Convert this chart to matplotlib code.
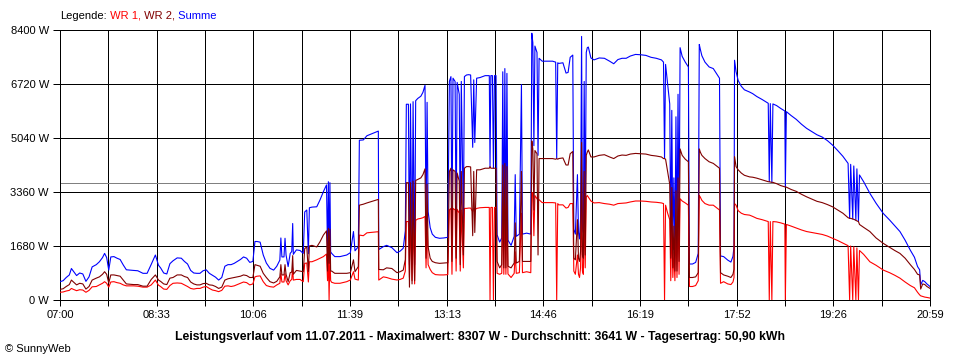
import matplotlib
matplotlib.use("Agg")
import matplotlib.pyplot as plt
import numpy as np

# ---------------- data (time = minutes after 07:00, power in W) ----------------
# 07:00 - 10:20
t_seg1 = [0, 3, 6, 9, 11, 13, 16, 19, 22, 25,
          28, 31, 35, 38, 41, 43, 45, 47, 49, 52,
          55, 58, 61, 64, 67, 71, 75, 80, 84, 88,
          92, 95, 97, 100, 103, 106, 109, 113, 117, 120,
          123, 126, 129, 132, 135, 138, 141, 144, 147, 150,
          153, 156, 159, 162, 165, 168, 171, 174, 177, 180,
          183, 186, 188, 190, 193, 196, 199]
wr1_seg1 = [240, 250, 280, 300, 360, 330, 290, 320, 310, 240,
            300, 410, 420, 470, 520, 570, 520, 400, 560, 570,
            540, 520, 470, 440, 440, 440, 430, 400, 400, 470,
            620, 460, 420, 340, 330, 450, 520, 530, 520, 470,
            420, 360, 340, 360, 360, 400, 420, 360, 310, 290,
            260, 300, 430, 440, 420, 440, 480, 520, 560, 540,
            470, 500, 720, 740, 750, 570, 450]
wr2_seg1 = [330, 350, 420, 480, 620, 560, 470, 520, 500, 340,
            420, 620, 680, 720, 800, 880, 800, 530, 780, 780,
            760, 740, 620, 500, 490, 480, 480, 430, 430, 640,
            780, 620, 580, 500, 480, 680, 700, 780, 780, 730,
            700, 560, 500, 470, 470, 510, 520, 470, 460, 420,
            360, 400, 620, 660, 680, 700, 720, 740, 780, 760,
            700, 700, 1100, 1080, 1050, 830, 700]

# 10:20 - 12:31
t_seg2 = [202.5, 206, 209, 212, 213, 214, 216, 217, 218, 220,
          222, 223.5, 224.4, 225, 228, 231.5, 234.6, 236, 238, 239.5,
          240.5, 243, 247.6, 250.7, 254, 257, 258, 258.8, 259.5, 260.3,
          261, 262, 265, 270, 276.5, 280, 283, 284.5, 287.7, 288.7,
          292.5, 296, 302, 307, 307.4, 311.8, 315, 320, 325, 328,
          331]
wr1_seg2 = [415, 400, 467, 520, 830, 560, 560, 820, 600, 470,
            600, 640, 1000, 620, 640, 640, 570, 1140, 1150, 560,
            1190, 1190, 1250, 1300, 1350, 1430, 600, 1450, 0, 1450,
            600, 550, 520, 520, 570, 622, 880, 650, 620, 2020,
            2000, 2090, 2110, 2125, 620, 720, 700, 650, 622, 640,
            680]
wr2_seg2 = [570, 530, 580, 720, 1100, 780, 780, 1100, 800, 570,
            850, 870, 1380, 800, 920, 900, 880, 1600, 1650, 880,
            1680, 1700, 1650, 1810, 2020, 2150, 900, 2230, 1140, 2200,
            900, 900, 830, 830, 830, 850, 1250, 880, 1040, 2950,
            2980, 3020, 3080, 3130, 950, 940, 1000, 980, 850, 880,
            930]

# 12:33 - 15:00
t_seg3 = [333, 334, 336, 337, 338, 339.5, 340.5, 342, 343, 345,
          348, 350, 352, 353, 354, 355, 357, 359, 362, 366,
          370, 374, 375.5, 377, 378, 379, 381, 382, 383, 385,
          386, 387, 389, 390, 392, 394, 396, 398, 399, 400,
          401.8, 405, 410, 414, 414.7, 415.5, 417, 418, 419, 420.5,
          421.5, 424, 426, 427, 428, 429, 430, 431, 432, 435,
          438, 439, 440, 443, 445, 446, 450, 454, 455, 456,
          457, 458, 460, 461, 462, 465, 470, 475, 478, 479,
          480]
wr1_seg3 = [900, 2440, 2440, 700, 2450, 600, 2470, 500, 2480, 2520,
            2540, 2560, 2600, 1000, 2550, 1100, 950, 850, 790, 780,
            780, 790, 2800, 2850, 800, 2850, 2800, 900, 2820, 2700,
            900, 2800, 1000, 2850, 2850, 2860, 2860, 2750, 2850, 2800,
            2850, 2870, 2880, 2880, 0, 2880, 2880, 0, 2880, 2880,
            830, 800, 830, 2900, 800, 2950, 800, 2900, 810, 700,
            830, 1500, 830, 850, 2700, 850, 880, 850, 3350, 3300,
            2000, 3250, 3150, 3100, 3120, 3030, 3030, 3030, 3020, 0,
            3000]
wr2_seg3 = [1250, 3650, 3650, 400, 3650, 500, 3700, 600, 3720, 3750,
            3800, 3900, 4080, 1300, 3600, 1650, 1300, 1200, 1160, 1140,
            1150, 1160, 4000, 4100, 1200, 4050, 4000, 1300, 3950, 3700,
            1100, 4000, 1400, 4100, 4150, 4150, 4140, 2000, 4000, 2100,
            4050, 4050, 4100, 4100, 4150, 4100, 4100, 4100, 4100, 4100,
            1200, 1000, 1100, 4200, 1000, 4250, 1000, 4150, 1050, 1000,
            1150, 2400, 1150, 1200, 4000, 1200, 1200, 1200, 4950, 4700,
            2800, 4650, 4550, 1400, 4400, 4400, 4400, 4400, 4380, 4400,
            4380]

# 15:01 - 17:37
t_seg4 = [481, 485, 488, 490, 492, 494.5, 495.5, 497, 499, 500,
          501, 502, 503, 503.8, 504.7, 505.5, 506.5, 507.5, 508.5, 509.5,
          512, 515, 520, 525, 530, 534, 538, 542, 546, 550,
          555, 560, 565, 570, 575, 580, 582, 583, 584, 586,
          588, 589, 590, 591, 592, 593, 594, 595, 596, 597,
          598, 600, 603, 606, 607, 610, 613, 615.5, 616.5, 617.5,
          619, 622, 626, 630, 634, 636, 637]
wr1_seg4 = [2960, 2960, 2860, 2880, 3000, 3000, 900, 800, 1400, 800,
            700, 1000, 3300, 900, 800, 2800, 1000, 3200, 3250, 3200,
            3080, 3020, 3030, 3000, 2980, 2950, 3000, 3010, 3020, 3050,
            3080, 3080, 3070, 3050, 3040, 3020, 3000, 0, 2950, 2700,
            2500, 600, 2400, 700, 1500, 600, 2300, 700, 2600, 800,
            3150, 3080, 3020, 2950, 420, 420, 450, 600, 3250, 3200,
            3100, 3000, 2950, 2950, 2850, 2800, 520]
wr2_seg4 = [4400, 4420, 4200, 4200, 4550, 4620, 1300, 1250, 2500, 1300,
            1200, 1500, 4900, 1400, 1300, 4000, 1400, 4500, 4600, 4670,
            4450, 4450, 4500, 4520, 4450, 4400, 4480, 4510, 4500, 4540,
            4560, 4550, 4540, 4500, 4480, 4450, 4400, 4400, 4380, 4000,
            3600, 1300, 3500, 1000, 2300, 900, 3400, 900, 3800, 1200,
            4700, 4500, 4380, 4300, 700, 700, 720, 850, 4700, 4600,
            4500, 4400, 4300, 4250, 4150, 4100, 850]

# 17:40 - 20:59
t_seg5 = [640, 644, 647, 649, 650, 650.5, 652, 654, 657, 660,
          665, 668, 672, 677, 683, 684, 685, 686.5, 687.5, 691,
          695, 699, 699.5, 700.5, 705, 710, 715, 720, 725, 730,
          735, 740, 745, 750, 755, 760, 761.5, 762.5, 764.5, 765.5,
          767.5, 768.5, 770, 771, 775, 781, 787, 794, 800, 805,
          810, 815, 820, 824, 827, 829, 830, 832, 834, 836,
          839]
wr1_seg5 = [570, 500, 480, 560, 700, 3000, 2950, 2780, 2700, 2660,
            2640, 2600, 2540, 2500, 2440, 0, 2440, 0, 2440, 2430,
            2400, 2360, 0, 2350, 2300, 2240, 2180, 2130, 2100, 2070,
            2040, 1990, 1920, 1850, 1770, 1690, 0, 1680, 0, 1660,
            0, 1620, 0, 1540, 1420, 1190, 1080, 930, 850, 770,
            680, 560, 450, 380, 240, 160, 130, 110, 90, 80,
            60]
wr2_seg5 = [780, 740, 700, 800, 960, 4460, 4150, 4050, 3950, 3880,
            3830, 3820, 3790, 3740, 3680, 3680, 3670, 3660, 3660, 3620,
            3560, 3520, 3520, 3510, 3440, 3380, 3290, 3210, 3140, 3070,
            3030, 2970, 2900, 2800, 2700, 2560, 2540, 2540, 2520, 2510,
            2480, 2460, 2440, 2350, 2260, 2130, 1930, 1760, 1640, 1540,
            1450, 1300, 1100, 950, 800, 780, 340, 500, 480, 420,
            360]

avg_value = 3641
y_ticks = [0, 1680, 3360, 5040, 6720, 8400]
x_labels = ["07:00", "08:33", "10:06", "11:39", "13:13",
            "14:46", "16:19", "17:52", "19:26", "20:59"]
total_minutes = 839  # 07:00 .. 20:59

title = ("Leistungsverlauf vom 11.07.2011 - Maximalwert: 8307 W - "
         "Durchschnitt: 3641 W - Tagesertrag: 50,90 kWh")

# ---------------- assemble ----------------
t = np.array(t_seg1 + t_seg2 + t_seg3 + t_seg4 + t_seg5, dtype=float)
wr1 = np.array(wr1_seg1 + wr1_seg2 + wr1_seg3 + wr1_seg4 + wr1_seg5, dtype=float)
wr2 = np.array(wr2_seg1 + wr2_seg2 + wr2_seg3 + wr2_seg4 + wr2_seg5, dtype=float)
assert len(t) == len(wr1) == len(wr2)
summe = wr1 + wr2

RED = "#FF0000"
DARK = "#800000"
BLUE = "#0000FF"

plt.rcParams['font.family'] = ['Liberation Sans', 'DejaVu Sans']

W, H = 960, 360
LW = 0.72       # one pixel at 100 dpi (grid, frame)
DLW = 0.8       # data lines
fig = plt.figure(figsize=(W / 100, H / 100), dpi=100)
fig.patch.set_facecolor("white")
ax = fig.add_axes([60 / W, 60 / H, 870 / W, 270 / H])

ax.set_xlim(0, total_minutes)
ax.set_ylim(0, 8400)

major_x = [total_minutes * k / 9 for k in range(10)]
minor_x = [total_minutes * (2 * k + 1) / 18 for k in range(9)]
for xv in major_x + minor_x:
    ax.axvline(xv, color="black", lw=LW, zorder=1, antialiased=False)
for yv in y_ticks:
    ax.axhline(yv, color="black", lw=LW, zorder=1, antialiased=False)
ax.axhline(avg_value, color="#808080", lw=LW, zorder=2, antialiased=False)

ax.plot(t, summe, color=BLUE, lw=DLW, zorder=3)
ax.plot(t, wr1, color=RED, lw=DLW, zorder=4)
ax.plot(t, wr2, color=DARK, lw=DLW, zorder=5)

ax.set_xticks(major_x)
ax.set_xticklabels(x_labels)
ax.set_xticks(minor_x, minor=True)
ax.set_yticks(y_ticks)
ax.set_yticklabels([f"{v} W" for v in y_ticks])
ax.tick_params(axis="x", which="both", length=4, width=LW, pad=3,
               labelsize=8, direction="out", colors="black")
ax.tick_params(axis="y", length=5, width=LW, pad=3, labelsize=8,
               direction="out", colors="black")
for sp in ax.spines.values():
    sp.set_linewidth(LW)
    sp.set_color("black")
    sp.set_antialiased(False)

fig.text(0.5, 1 - 337 / H, title, ha="center", va="center",
         fontsize=8.8, fontweight="bold")
fig.text(5 / W, 1 - 349 / H, "\u00a9 SunnyWeb", ha="left", va="center", fontsize=8)

# multi-coloured legend line
fig.canvas.draw()
renderer = fig.canvas.get_renderer()
legend_parts = [("Legende:", "black"), (" WR 1,", RED), (" WR 2,", DARK), (" Summe", BLUE)]
xpos = 60 / W
for s, c in legend_parts:
    txt = fig.text(xpos, 1 - 16 / H, s, color=c, ha="left", va="center", fontsize=8)
    bb = txt.get_window_extent(renderer)
    xpos = bb.x1 / W

fig.savefig("out.png", dpi=100)
